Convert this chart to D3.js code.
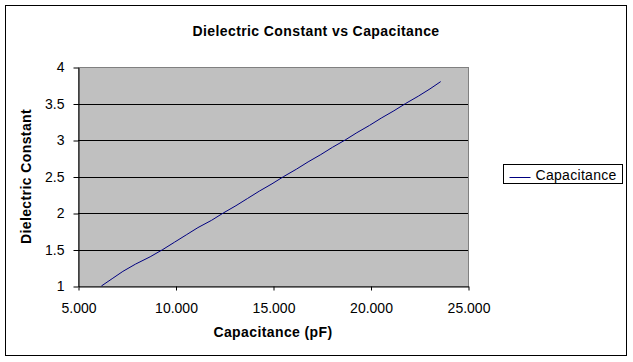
<!DOCTYPE html>
<html>
<head>
<meta charset="utf-8">
<script src="https://cdn.jsdelivr.net/npm/d3@7"></script>
<style>
    body{margin:0;background:#fff;}
    svg text{font-family:Arial,"Liberation Sans",sans-serif;fill:#000;}
</style>
</head>
<body>
<svg id="chart" width="633" height="362"></svg>
<script>
// dielectric constant (y) vs measured capacitance in pF (x)
const dielectric=[1.0,1.1,1.2,1.3,1.4,1.5,1.6,1.7,1.8,1.9,2.0,2.1,2.2,2.3,2.4,2.5,2.6,2.7,2.8,2.9,3.0,3.1,3.2,3.3,3.4,3.5,3.6,3.7,3.8]
const capacitance=[6.20,6.75,7.30,7.95,8.70,9.35,9.95,10.55,11.15,11.85,12.45,13.10,13.70,14.30,14.95,15.55,16.20,16.80,17.45,18.05,18.70,19.30,19.95,20.55,21.20,21.80,22.45,23.05,23.60]
const x_ticks=[5,10,15,20,25]
const y_ticks=[1,1.5,2,2.5,3,3.5,4]
const series_name='Capacitance'

const plot={left:78,top:67,right:468,bot:286}

const svg=d3.select('#chart')

// outer chart frame
svg.append('rect')
    .attr('x',5.5).attr('y',5.5)
    .attr('width',621).attr('height',350)
    .attr('fill','#fff').attr('stroke','#000')

const x=d3.scaleLinear().domain([5,25]).range([plot.left,plot.right])
const y=d3.scaleLinear().domain([1,4]).range([plot.bot,plot.top])

// plot area
svg.append('rect')
    .attr('x',plot.left+0.5).attr('y',plot.top+0.5)
    .attr('width',plot.right-plot.left).attr('height',plot.bot-plot.top)
    .attr('fill','#c0c0c0').attr('stroke','#808080')

// gridlines
svg.append('g')
    .selectAll('line')
    .data(y_ticks.filter(d=>d>1&&d<4))
    .join('line')
    .attr('x1',plot.left).attr('x2',plot.right)
    .attr('y1',d=>Math.round(y(d))+0.5).attr('y2',d=>Math.round(y(d))+0.5)
    .attr('stroke','#000')

// axes
const x_axis=svg.append('g')
    .attr('transform',`translate(0.5,${plot.bot+0.5})`)
    .call(d3.axisBottom(x).tickValues(x_ticks).tickSize(4).tickSizeOuter(0).tickPadding(9)
        .tickFormat(d=>d3.format('.3f')(d)))
const y_axis=svg.append('g')
    .attr('transform',`translate(${plot.left+0.5},0.5)`)
    .call(d3.axisLeft(y).tickValues(y_ticks).tickSize(5).tickSizeOuter(0).tickPadding(9)
        .tickFormat(d=>d))

;[x_axis,y_axis].forEach(g=>{
    g.select('.domain').attr('stroke','#000')
    g.selectAll('.tick line').attr('stroke','#000')
    g.selectAll('text').attr('font-size',14).attr('font-family','Arial,"Liberation Sans",sans-serif').attr('fill','#000')
})
x_axis.selectAll('text').attr('dy','0.95em')

// series
const line=d3.line()
    .x((d,i)=>x(capacitance[i]))
    .y(d=>y(d))
svg.append('path')
    .datum(dielectric)
    .attr('d',line)
    .attr('fill','none')
    .attr('stroke','#000080')
    .attr('stroke-width',1)

// titles
svg.append('text')
    .attr('x',316).attr('y',36)
    .attr('text-anchor','middle')
    .attr('font-size',14).attr('font-weight','bold').attr('letter-spacing',0.4)
    .text('Dielectric Constant vs Capacitance')

svg.append('text')
    .attr('x',(plot.left+plot.right)/2).attr('y',337)
    .attr('text-anchor','middle')
    .attr('font-size',14).attr('font-weight','bold').attr('letter-spacing',0.4)
    .text('Capacitance (pF)')

svg.append('text')
    .attr('transform',`translate(31,${(plot.top+plot.bot)/2}) rotate(-90)`)
    .attr('text-anchor','middle')
    .attr('font-size',14).attr('font-weight','bold').attr('letter-spacing',0.4)
    .text('Dielectric Constant')

// legend
const legend=svg.append('g').attr('transform','translate(503.5,164.5)')
legend.append('rect')
    .attr('width',119).attr('height',19)
    .attr('fill','#fff').attr('stroke','#000')
legend.append('line')
    .attr('x1',6).attr('x2',27).attr('y1',13).attr('y2',13)
    .attr('stroke','#000080')
legend.append('text')
    .attr('x',32).attr('y',15)
    .attr('font-size',14).attr('letter-spacing',0.3)
    .text(series_name)
</script>
</body>
</html>
